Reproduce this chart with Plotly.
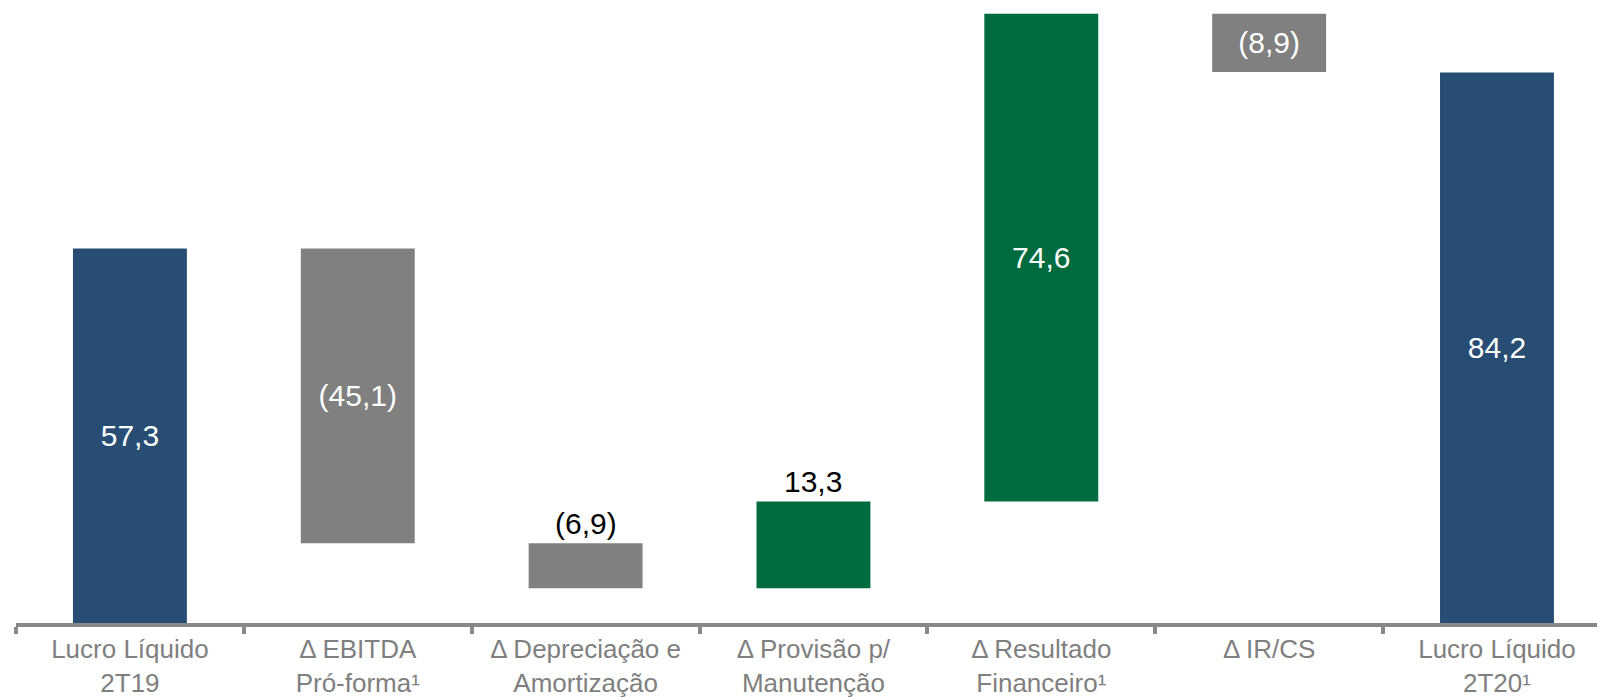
import plotly.graph_objects as go

categories = [
    "Lucro Líquido<br>2T19",
    "Δ EBITDA<br>Pró-forma¹",
    "Δ Depreciação e<br>Amortização",
    "Δ Provisão p/<br>Manutenção",
    "Δ Resultado<br>Financeiro¹",
    "Δ IR/CS",
    "Lucro Líquido<br>2T20¹",
]
values = [57.3, -45.1, -6.9, 13.3, 74.6, -8.9, 84.2]
measures = ["absolute", "relative", "relative", "relative", "relative", "relative", "absolute"]
labels = ["57,3", "(45,1)", "(6,9)", "13,3", "74,6", "(8,9)", "84,2"]
outside = [False, False, True, True, False, False, False]

BLUE = "#284d74"
GRAY = "#808080"
GREEN = "#006b3e"
FONT = "Liberation Sans, Arial, sans-serif"

# compute bar tops for outside labels
tops = []
running = 0.0
for v, m in zip(values, measures):
    if m == "absolute":
        start, end = 0.0, v
        running = v
    else:
        start, end = running, running + v
        running = end
    tops.append(max(start, end))

fig = go.Figure()
fig.add_trace(go.Waterfall(
    x=categories,
    y=values,
    measure=measures,
    text=[("" if o else t) for t, o in zip(labels, outside)],
    textposition="inside",
    insidetextanchor="middle",
    constraintext="none",
    textfont=dict(family=FONT, size=30, color="white"),
    increasing=dict(marker=dict(color=GREEN)),
    decreasing=dict(marker=dict(color=GRAY)),
    totals=dict(marker=dict(color=BLUE)),
    connector=dict(visible=False),
    width=0.5,
    hoverinfo="skip",
    showlegend=False,
))

for c, t, l, o in zip(categories, tops, labels, outside):
    if o:
        fig.add_annotation(
            x=c, y=t, text=l, showarrow=False,
            xanchor="center", yanchor="bottom", yshift=1,
            font=dict(family=FONT, size=30, color="black"),
        )

fig.update_layout(
    width=1597, height=697,
    margin=dict(l=16, r=0, t=0, b=74),
    paper_bgcolor="white", plot_bgcolor="white",
    font=dict(family=FONT),
    xaxis=dict(
        range=[-0.5, 6.439],
        showline=True, linecolor="#888888", linewidth=4,
        ticks="outside", tickson="boundaries", ticklen=7, tickwidth=4, tickcolor="#888888",
        tickfont=dict(family=FONT, size=26, color="#7f7f7f"),
        showgrid=False, zeroline=False,
        automargin=False,
    ),
    yaxis=dict(
        range=[0, 95.3],
        visible=False, showgrid=False, zeroline=False,
    ),
)

fig.write_html(
    "out.html",
    config={"displayModeBar": False},
    post_script="document.body.style.margin='0';document.body.style.overflow='hidden';",
)
